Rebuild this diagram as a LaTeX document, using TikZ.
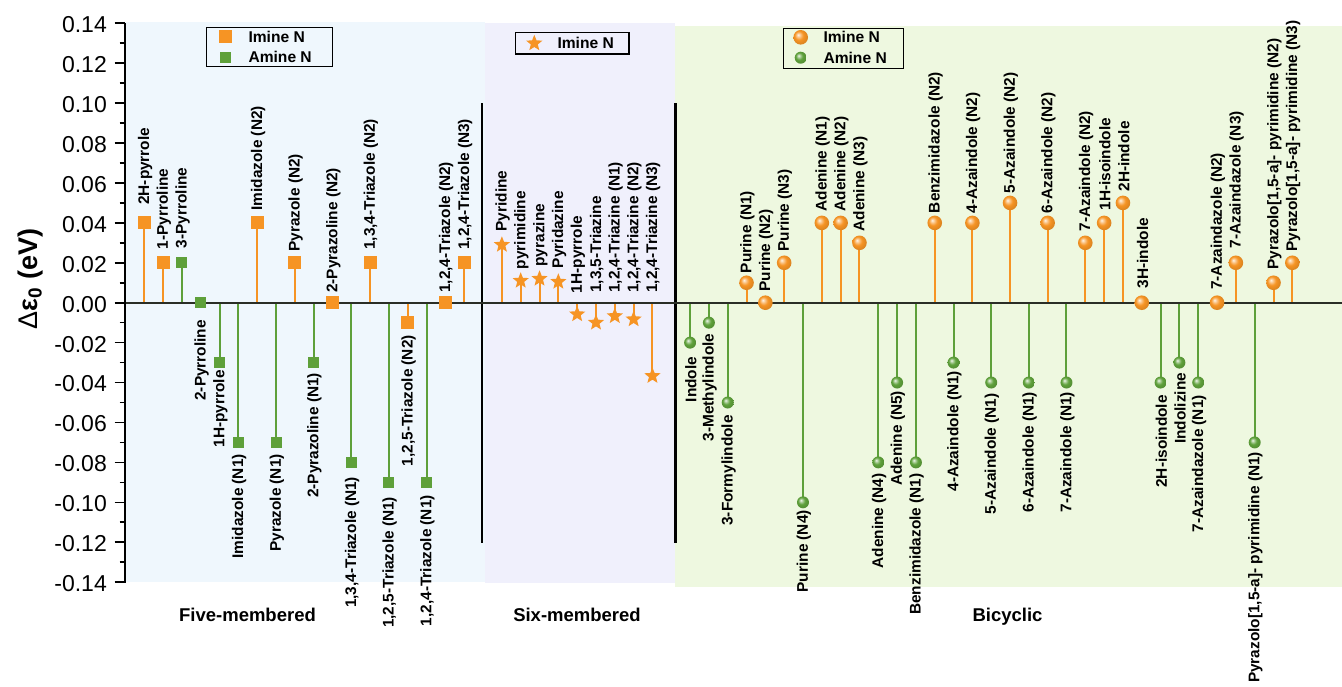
\documentclass[tikz,border=0pt]{standalone}
\usepackage{fontspec}
\setmainfont{Liberation Sans}
\usetikzlibrary{shapes.geometric}
\definecolor{mo}{RGB}{246,148,36}
\definecolor{mg}{RGB}{94,160,58}
\definecolor{bgb}{RGB}{239,247,253}
\definecolor{bgp}{RGB}{240,240,252}
\definecolor{bgg}{RGB}{238,248,224}
\definecolor{zl}{RGB}{42,46,38}
\pgfdeclareradialshading{oball}{\pgfqpoint{-9bp}{9bp}}{color(0bp)=(mo!10!white); color(7bp)=(mo!55!white); color(15bp)=(mo); color(24bp)=(mo!92!black); color(50bp)=(mo!75!black)}
\pgfdeclareradialshading{gball}{\pgfqpoint{-9bp}{9bp}}{color(0bp)=(mg!10!white); color(7bp)=(mg!55!white); color(15bp)=(mg); color(24bp)=(mg!92!black); color(50bp)=(mg!75!black)}
\newcommand{\labfont}{\fontsize{15.4}{16}\selectfont\bfseries}
\begin{document}
\begin{tikzpicture}[x=1pt,y=-1pt,
  mk-so/.style={rectangle,fill=mo,minimum size=13pt,inner sep=0pt},
  mk-sg/.style={rectangle,fill=mg,minimum size=11pt,inner sep=0pt},
  mk-st/.style={star,star points=5,star point ratio=2.3,fill=mo,minimum size=17pt,inner sep=0pt},
  mk-bo/.style={circle,shading=oball,minimum size=14.6pt,inner sep=0pt},
  mk-bg/.style={circle,shading=gball,minimum size=12pt,inner sep=0pt},
  st-so/.style={draw=mo,line width=2pt},
  st-st/.style={draw=mo,line width=2pt},
  st-bo/.style={draw=mo,line width=2pt},
  st-sg/.style={draw=mg,line width=2pt},
  st-bg/.style={draw=mg,line width=2pt},
  lab-u/.style={rotate=90,anchor=west,inner sep=0pt,font=\labfont},
  lab-d/.style={rotate=90,anchor=east,inner sep=0pt,font=\labfont},
  legbox/.style={draw=black,line width=1.3pt,inner sep=0pt},
  legtxt/.style={anchor=west,inner sep=0pt,font=\fontsize{15.6}{16}\selectfont\bfseries},
  cat/.style={anchor=base,inner sep=0pt,font=\fontsize{18.5}{20}\selectfont\bfseries},
  tick/.style={line width=1.6pt,black},
  ticklab/.style={anchor=east,inner sep=0pt,font=\fontsize{23}{24}\selectfont}
]
\useasboundingbox (0,0) rectangle (1342,686);
% panels
\fill[bgb] (125,21.7) rectangle (485,581.7);
\fill[bgp] (485,23.3) rectangle (675.3,582.7);
\fill[bgg] (675.3,26) rectangle (1342,587.3);

\def\alldata{%
0/0.04/so/u/205/2H-pyrrole,
1/0.02/so/u/249.3/1-Pyrroline,
2/0.02/sg/u/248.3/3-Pyrroline,
3/0/sg/d/320/2-Pyrroline,
4/-0.03/sg/d/370/1H-pyrrole,
5/-0.07/sg/d/454/Imidazole (N1),
6/0.04/so/u/210.7/Imidazole (N2),
7/-0.07/sg/d/454/Pyrazole (N1),
8/0.02/so/u/251.7/Pyrazole (N2),
9/-0.03/sg/d/372.7/2-Pyrazoline (N1),
10/0/so/u/293/2-Pyrazoline (N2),
11/-0.08/sg/d/476.7/{1,3,4-Triazole (N1)},
12/0.02/so/u/250/{1,3,4-Triazole (N2)},
13/-0.09/sg/d/496.7/{1,2,5-Triazole (N1)},
14/-0.01/so/d/335/{1,2,5-Triazole (N2)},
15/-0.09/sg/d/495/{1,2,4-Triazole (N1)},
16/0/so/u/293/{1,2,4-Triazole (N2)},
17/0.02/so/u/250/{1,2,4-Triazole (N3)},
19/0.029/st/u/231.7/Pyridine,
20/0.011/st/u/269.3/pyrimidine,
21/0.012/st/u/266.7/pyrazine,
22/0.0105/st/u/268.3/Pyridazine,
23/-0.0058/st/u/293.3/1H-pyrrole,
24/-0.010/st/u/293/{1,3,5-Triazine},
25/-0.0067/st/u/293/{1,2,4-Triazine (N1)},
26/-0.0083/st/u/293/{1,2,4-Triazine (N2)},
27/-0.0367/st/u/293/{1,2,4-Triazine (N3)},
29/-0.02/bg/d/356.7/Indole,
30/-0.01/bg/d/333.3/3-Methylindole,
31/-0.05/bg/d/415/3-Formylindole,
32/0.01/bo/u/273.3/Purine (N1),
33/0/bo/u/291.7/Purine (N2),
34/0.02/bo/u/251.7/Purine (N3),
35/-0.10/bg/d/510/Purine (N4),
36/0.04/bo/u/211.7/Adenine (N1),
37/0.04/bo/u/211.7/Adenine (N2),
38/0.03/bo/u/231.7/Adenine (N3),
39/-0.08/bg/d/473.3/Adenine (N4),
40/-0.04/bg/d/390.7/Adenine (N5),
41/-0.08/bg/d/473.3/Benzimidazole (N1),
42/0.04/bo/u/213.3/Benzimidazole (N2),
43/-0.03/bg/d/370.7/4-Azaindole (N1),
44/0.04/bo/u/213.3/4-Azaindole (N2),
45/-0.04/bg/d/393.3/5-Azaindole (N1),
46/0.05/bo/u/193.3/5-Azaindole (N2),
47/-0.04/bg/d/391.7/6-Azaindole (N1),
48/0.04/bo/u/213.3/6-Azaindole (N2),
49/-0.04/bg/d/391.7/7-Azaindole (N1),
50/0.03/bo/u/231.7/7-Azaindole (N2),
51/0.04/bo/u/210.7/1H-isoindole,
52/0.05/bo/u/191.7/2H-indole,
53/0/bo/u/288.3/3H-indole,
54/-0.04/bg/d/395/2H-isoindole,
55/-0.03/bg/d/372.7/Indolizine,
56/-0.04/bg/d/395/7-Azaindazole (N1),
57/0/bo/u/290/7-Azaindazole (N2),
58/0.02/bo/u/248.3/7-Azaindazole (N3),
59/-0.07/bg/d/451.7/{Pyrazolo[1,5-a]- pyrimidine (N1)},
60/0.01/bo/u/270/{Pyrazolo[1,5-a]- pyrimidine (N2)},
61/0.02/bo/u/251.7/{Pyrazolo[1,5-a]- pyrimidine (N3)}}

% stems
\foreach \i/\v/\t/\d/\ly/\lab in \alldata {
  \pgfmathsetmacro\xx{144.3+18.82*\i}
  \pgfmathsetmacro\yy{302.7-1996*\v}
  \coordinate (z\i) at (\xx,302.7);
  \coordinate (p\i) at (\xx,\yy);
  \draw[st-\t] (z\i) -- (p\i);
}

% separators
\coordinate (s1t) at (481.7,103.3); \coordinate (s1b) at (481.7,543.3);
\coordinate (s2t) at (675.3,103.3); \coordinate (s2b) at (675.3,543.3);
\draw[line width=2.4pt,black] (s1t) -- (s1b);
\draw[line width=2.4pt,black] (s2t) -- (s2b);

% zero line
\coordinate (zl0) at (125,302.7); \coordinate (zl1) at (1342,302.7);
\draw[line width=2pt,zl] (zl0) -- (zl1);

% markers and labels
\foreach \i/\v/\t/\d/\ly/\lab in \alldata {
  \pgfmathsetmacro\xx{144.3+18.82*\i}
  \node[mk-\t] (m\i) at (p\i) {};
  \node[lab-\d] (l\i) at (\xx+0.8,\ly) {\lab};
}

% y axis
\coordinate (ya) at (125,23.3); \coordinate (yb) at (125,582.7);
\draw[line width=2.4pt,black] (ya) -- (yb);
\foreach \t in {0.14,0.12,0.10,0.08,0.06,0.04,0.02,0.00,-0.02,-0.04,-0.06,-0.08,-0.10,-0.12,-0.14} {
  \pgfmathsetmacro\yy{302.7-1996*\t}
  \coordinate (ta) at (114.5,\yy); \coordinate (tb) at (125,\yy);
  \draw[tick] (ta) -- (tb);
  \node[ticklab] (tl) at (107,\yy+1.5) {\t};
}
\foreach \t in {0.13,0.11,0.09,0.07,0.05,0.03,0.01,-0.01,-0.03,-0.05,-0.07,-0.09,-0.11,-0.13} {
  \pgfmathsetmacro\yy{302.7-1996*\t}
  \coordinate (ta) at (119.5,\yy); \coordinate (tb) at (125,\yy);
  \draw[tick] (ta) -- (tb);
}
\node[rotate=90,anchor=base,inner sep=0pt,font=\fontsize{27}{28}\selectfont] (ylab) at (37,279)
  {Δ\textbf{ε\textsubscript{0} (eV)}};

% category labels
\node[cat] (c1) at (247.5,621.5) {Five-membered};
\node[cat] (c2) at (577,621.5) {Six-membered};
\node[cat] (c3) at (1007.5,621.5) {Bicyclic};

% legends
\node[legbox,minimum width=125.6pt,minimum height=39pt] (lg1) at (269.5,47.2) {};
\node[mk-so] (lg1a) at (225.3,36.7) {};
\node[mk-sg] (lg1b) at (225.3,57.3) {};
\node[legtxt] (lg1at) at (248.3,36.7) {Imine N};
\node[legtxt] (lg1bt) at (248.3,57.3) {Amine N};

\node[legbox,minimum width=113.3pt,minimum height=21.7pt] (lg2) at (572.3,43.2) {};
\node[mk-st] (lg2a) at (534.3,43.3) {};
\node[legtxt] (lg2at) at (557.3,43.3) {Imine N};

\node[legbox,minimum width=120pt,minimum height=40pt] (lg3) at (843.3,48.3) {};
\node[mk-bo] (lg3a) at (800.7,37.3) {};
\node[mk-bg] (lg3b) at (800.7,57.7) {};
\node[legtxt] (lg3at) at (823.3,37.3) {Imine N};
\node[legtxt] (lg3bt) at (823.3,57.7) {Amine N};
\end{tikzpicture}
\end{document}
